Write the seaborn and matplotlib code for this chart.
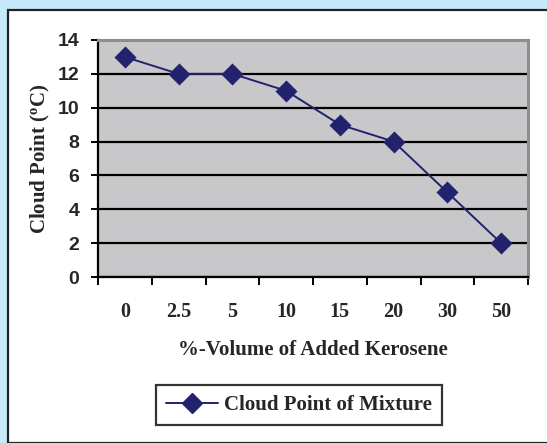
import matplotlib
matplotlib.use("Agg")
import matplotlib.pyplot as plt
from matplotlib.patches import Rectangle
from matplotlib.lines import Line2D
import seaborn as sns
import pandas as pd

# Kerosene share (% volume) and measured cloud point of the blend
kerosene_pct = ["0", "2.5", "5", "10", "15", "20", "30", "50"]
cloud_point = [13, 12, 12, 11, 9, 8, 5, 2]
y_ticks = [0, 2, 4, 6, 8, 10, 12, 14]

series_name = "Cloud Point of Mixture"
line_color = "#22226E"

df = pd.DataFrame({"kerosene": kerosene_pct, "cloud": cloud_point})

sns.set_style("white")
W, H = 547, 443
fig = plt.figure(figsize=(W / 100, H / 100), dpi=100)
fig.patch.set_facecolor("#C5E9F8")

# white chart panel with a dark frame
fig.patches.append(Rectangle((8 / W, 0), 1.0, 1 - 10 / H, transform=fig.transFigure,
                             facecolor="white", edgecolor="#222222", linewidth=1.6,
                             zorder=-10))

left, right, top, bottom = 98, 528, 40, 277
ax = fig.add_axes([left / W, 1 - bottom / H, (right - left) / W, (bottom - top) / H])
ax.set_facecolor("#C8C8CA")

sns.pointplot(data=df, x="kerosene", y="cloud", order=kerosene_pct, ax=ax,
              color=line_color, markers="D", markersize=10.5, linewidth=1.4,
              errorbar=None)
for coll in ax.collections:
    coll.set_zorder(5)
for ln in ax.lines:
    ln.set_zorder(4)

ax.set_xlim(-0.5, len(kerosene_pct) - 0.5)
ax.set_ylim(0, 14)
ax.set_yticks(y_ticks)
ax.yaxis.grid(True, color="black", linewidth=1.6)
ax.xaxis.grid(False)
ax.set_axisbelow(True)

for s in ["top", "right"]:
    ax.spines[s].set_color("#8E8E90")
    ax.spines[s].set_linewidth(2.2)
ax.spines["left"].set_color("black")
ax.spines["left"].set_linewidth(1.6)
ax.spines["bottom"].set_color("black")
ax.spines["bottom"].set_linewidth(1.6)

ax.tick_params(axis="y", which="major", length=5, width=1.4, color="black",
               direction="out", left=True, pad=8.5)
for lab in ax.get_yticklabels():
    lab.set_fontfamily("Liberation Sans")
    lab.set_fontweight("bold")
    lab.set_fontsize(14)

# x ticks sit on category boundaries, labels at category centres
ax.set_xticks([i - 0.5 for i in range(len(kerosene_pct) + 1)], minor=True)
ax.tick_params(axis="x", which="minor", length=6, width=1.4, color="black",
               direction="out", bottom=True)
ax.tick_params(axis="x", which="major", length=0, pad=18)
ax.set_xticks(range(len(kerosene_pct)))
ax.set_xticklabels(kerosene_pct)
for lab in ax.get_xticklabels():
    lab.set_fontfamily("Liberation Serif")
    lab.set_fontweight("bold")
    lab.set_fontsize(14.5)

ax.set_xlabel("%-Volume of Added Kerosene", family="Liberation Serif",
              weight="bold", fontsize=15, labelpad=13)
ax.set_ylabel(r"Cloud Point ($\mathregular{^o}$C)", family="Liberation Serif",
              weight="bold", fontsize=15, labelpad=4)

handle = Line2D([], [], color=line_color, marker="D", markersize=10.5, linewidth=1.4)
leg = fig.legend([handle], [series_name], loc="center",
                 bbox_to_anchor=(299 / W, 1 - 405 / H), frameon=True,
                 fancybox=False, edgecolor="black", handlelength=2.5,
                 borderpad=0.5, handletextpad=0.25,
                 prop={"family": "Liberation Serif", "weight": "bold", "size": 15})
leg.get_frame().set_linewidth(1.6)

fig.savefig("out.png", dpi=100, facecolor=fig.get_facecolor())
